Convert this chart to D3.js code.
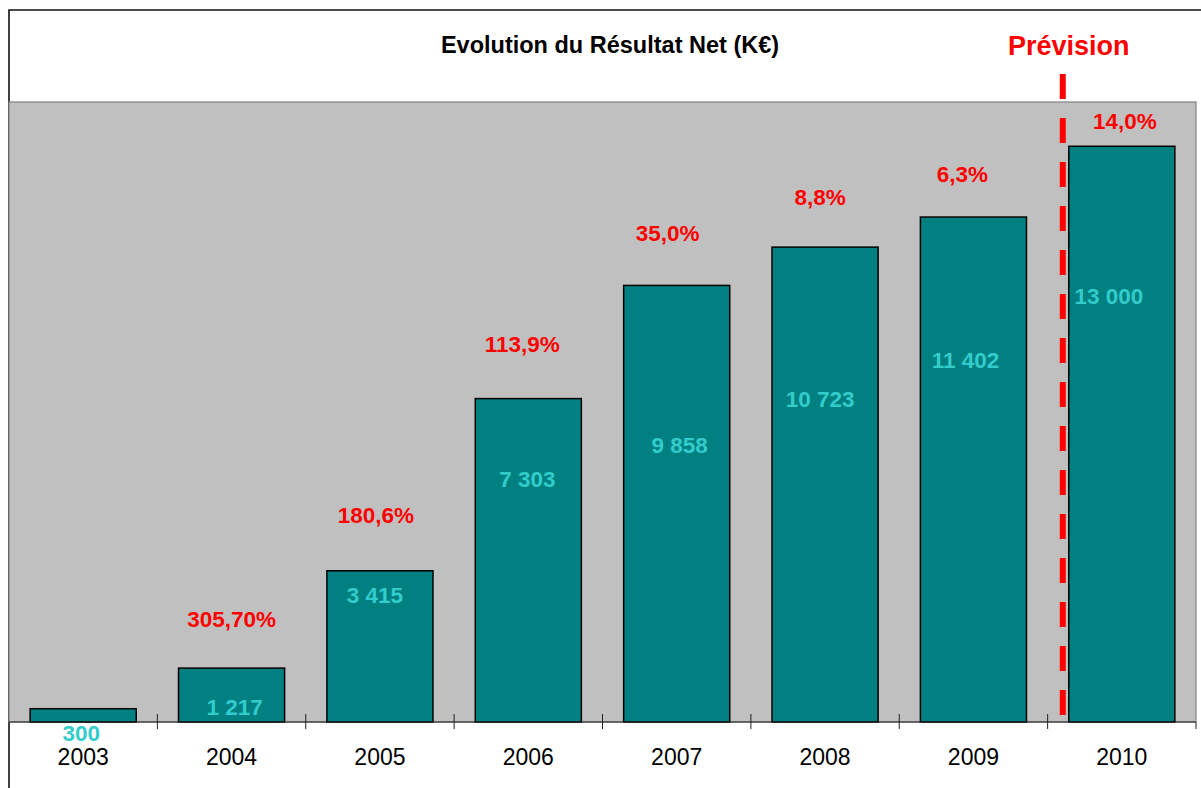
<!DOCTYPE html>
<html>
  <head>
    <meta charset="utf-8">
    <script src="https://d3js.org/d3.v7.min.js" charset="utf-8"></script>
    <style>
      body { margin: 0; background: #fff; }
      text { font-family: "Liberation Sans", Arial, sans-serif; }
    </style>
  </head>
  <body>
    <script type="text/javascript">

// data
var years     = ["2003", "2004", "2005", "2006", "2007", "2008", "2009", "2010"];
var resultat  = [300, 1217, 3415, 7303, 9858, 10723, 11402, 13000];
var evolution = [null, "305,70%", "180,6%", "113,9%", "35,0%", "8,8%", "6,3%", "14,0%"];
var prevision = "2010";

// hand placed labels in the original (offsets from bar centre / bar top)
var pctShift = [null, [0, -49], [-4, -56], [-6, -55], [-9, -53], [-5, -50], [-11, -43], [3, -25]];
var valShift = [[-2, 24], [3, 39], [-5, 24], [-1, 80], [3, 159], [-5, 152], [-8, 143], [-13, 150]];

var w = 1201;
var h = 788;
var pLeft = 9, pRight = 1196, pTop = 102, pBottom = 722;

var fr = d3.formatLocale({ decimal: ",", thousands: " ", grouping: [3], currency: ["", " €"] });
var fmt = fr.format(",d");

var x = d3.scaleBand()
    .domain(years)
    .range([pLeft, pRight])
    .paddingInner(0.285)
    .paddingOuter(0.1425);

var y = d3.scaleLinear()
    .domain([0, 14000])
    .range([pBottom, pTop]);

var svg =
  d3.select("body")
    .append("svg")
    .attr("width", w)
    .attr("height", h);

// outer frame (runs off the picture at right and bottom)
svg.append("path")
    .attr("d", "M" + pLeft + "," + h + "V10H" + w)
    .attr("fill", "none")
    .attr("stroke", "#111")
    .attr("stroke-width", 1.6);

// plot area
svg.append("rect")
    .attr("x", pLeft)
    .attr("y", pTop)
    .attr("width", pRight - pLeft)
    .attr("height", pBottom - pTop)
    .attr("fill", "#c0c0c0")
    .attr("stroke", "#808080")
    .attr("stroke-width", 1.2);

svg.append("text")
    .attr("x", 610)
    .attr("y", 53)
    .attr("text-anchor", "middle")
    .style("font-size", "23.5px")
    .style("font-weight", "bold")
    .text("Evolution du Résultat Net (K€)");

// bars
svg.selectAll("rect.bar")
    .data(resultat)
    .enter()
    .append("rect")
    .attr("class", "bar")
    .attr("x", function(d, i) { return x(years[i]); })
    .attr("y", function(d) { return y(d); })
    .attr("width", x.bandwidth())
    .attr("height", function(d) { return y(0) - y(d); })
    .attr("fill", "#008080")
    .attr("stroke", "#000")
    .attr("stroke-width", 1.5);

// forecast separator
var sepX = x(prevision) - 6;
svg.append("line")
    .attr("x1", sepX).attr("x2", sepX)
    .attr("y1", 74).attr("y2", pBottom)
    .attr("stroke", "#ff0000")
    .attr("stroke-width", 6)
    .attr("stroke-dasharray", "25 19");

svg.append("text")
    .attr("x", x(prevision))
    .attr("y", 55)
    .attr("text-anchor", "middle")
    .attr("fill", "#ff0000")
    .style("font-size", "27px")
    .style("font-weight", "bold")
    .text("Prévision");

// axis line + category ticks
svg.append("line")
    .attr("x1", pLeft).attr("x2", pRight)
    .attr("y1", pBottom).attr("y2", pBottom)
    .attr("stroke", "#222")
    .attr("stroke-width", 1.2);

var step = x.step();
svg.selectAll("line.tick")
    .data(years.slice(1))
    .enter()
    .append("line")
    .attr("class", "tick")
    .attr("x1", function(d) { return x(d) - step * x.paddingInner() / 2; })
    .attr("x2", function(d) { return x(d) - step * x.paddingInner() / 2; })
    .attr("y1", pBottom - 8)
    .attr("y2", pBottom + 7)
    .attr("stroke", "#222");

svg.append("line")
    .attr("x1", pRight).attr("x2", pRight)
    .attr("y1", pBottom).attr("y2", pBottom + 7)
    .attr("stroke", "#222");

var xAxis = d3.axisBottom(x).tickSize(0).tickPadding(27);
var ax = svg.append("g")
    .attr("transform", "translate(0," + pBottom + ")")
    .call(xAxis);
ax.select(".domain").remove();
ax.selectAll("text")
    .attr("fill", "#000")
    .style("font-size", "23px")
    .style("font-family", "'Liberation Sans', Arial, sans-serif");

// value labels
svg.selectAll("text.val")
    .data(resultat)
    .enter()
    .append("text")
    .attr("class", "val")
    .attr("x", function(d, i) { return x(years[i]) + x.bandwidth() / 2 + valShift[i][0]; })
    .attr("y", function(d, i) { return y(d) + valShift[i][1]; })
    .attr("dy", "0.36em")
    .attr("text-anchor", "middle")
    .attr("fill", "#33cccc")
    .style("font-size", "22.5px")
    .style("font-weight", "bold")
    .text(function(d) { return fmt(d); });

// growth labels
var pct = evolution
    .map(function(d, i) { return { label: d, i: i }; })
    .filter(function(d) { return d.label !== null; });

svg.selectAll("text.pct")
    .data(pct)
    .enter()
    .append("text")
    .attr("class", "pct")
    .attr("x", function(d) { return x(years[d.i]) + x.bandwidth() / 2 + pctShift[d.i][0]; })
    .attr("y", function(d) { return y(resultat[d.i]) + pctShift[d.i][1]; })
    .attr("dy", "0.36em")
    .attr("text-anchor", "middle")
    .attr("fill", "#ff0000")
    .style("font-size", "22.5px")
    .style("font-weight", "bold")
    .text(function(d) { return d.label; });

    </script>
  </body>
</html>
